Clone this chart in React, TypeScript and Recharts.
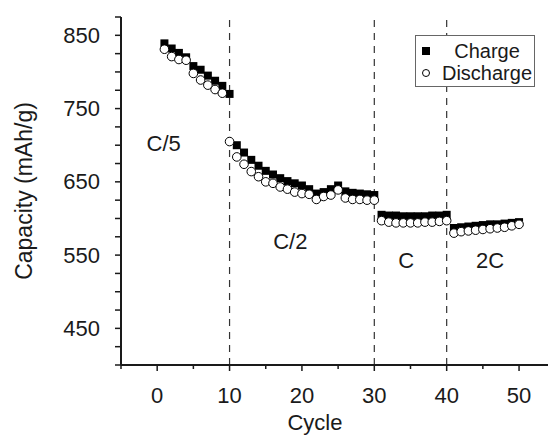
import {
  ScatterChart, Scatter, XAxis, YAxis, ReferenceLine, ReferenceDot, Legend,
} from 'recharts';

const cycles = [
  1, 2, 3, 4, 5, 6, 7, 8, 9, 10,
  11, 12, 13, 14, 15, 16, 17, 18, 19, 20, 21, 22, 23, 24, 25, 26, 27, 28, 29, 30,
  31, 32, 33, 34, 35, 36, 37, 38, 39, 40,
  41, 42, 43, 44, 45, 46, 47, 48, 49, 50,
];

const charge = [
  839, 832, 826, 820, 808, 803, 795, 788, 781, 770,
  700, 690, 680, 672, 665, 660, 655, 651, 648, 645, 640, 634, 636, 640, 645, 637, 635, 634, 633, 632,
  605, 604, 604, 603, 603, 603, 603, 604, 604, 605,
  587, 588, 589, 590, 591, 592, 592, 593, 594, 595,
];

const discharge = [
  831, 821, 817, 816, 798, 789, 782, 776, 771, 705,
  684, 674, 664, 657, 650, 648, 643, 640, 636, 634, 633, 626, 630, 632, 639, 628, 626, 626, 625, 625,
  597, 595, 594, 594, 594, 594, 595, 595, 596, 597,
  580, 582, 583, 584, 585, 586, 587, 588, 590, 592,
];

// cycle where the C-rate changes
const rateBreaks = [10, 30, 40];
const rateNames = ['C/5', 'C/2', 'C', '2C'];
// where each rate name sits, in data units [cycle, capacity]
const rateSpots = [[0.9, 703], [18.4, 569], [34.4, 543], [46, 542]];

const xTicks = [-5, 0, 5, 10, 15, 20, 25, 30, 35, 40, 45, 50];
const xLabels = [0, 10, 20, 30, 40, 50];
const yTicks = [400, 425, 450, 475, 500, 525, 550, 575, 600, 625, 650, 675, 700, 725, 750, 775, 800, 825, 850, 875];
const yLabels = [450, 550, 650, 750, 850];

const chargeData = cycles.map((c, i) => ({ cycle: c, cap: charge[i] }));
const dischargeData = cycles.map((c, i) => ({ cycle: c, cap: discharge[i] }));

const FONT = '"Liberation Sans", Arial, Helvetica, sans-serif';
const INK = '#1a1a1a';

function YTick({ x, y, payload }: any) {
  const major = yLabels.includes(payload.value);
  return (
    <g>
      <line x1={x} x2={x - 6} y1={y} y2={y} stroke={INK} strokeWidth={1.5} />
      {major && (
        <text x={x - 21} y={y} textAnchor="end" dominantBaseline="central"
          fontSize={22} fontFamily={FONT} fill={INK}>{payload.value}</text>
      )}
    </g>
  );
}

function XTick({ x, y, payload }: any) {
  const major = xLabels.includes(payload.value);
  return (
    <g>
      <line x1={x} x2={x} y1={y} y2={y + (major ? 6 : 4)} stroke={INK} strokeWidth={1.5} />
      {major && (
        <text x={x} y={y + 30} textAnchor="middle" dominantBaseline="central"
          fontSize={22} fontFamily={FONT} fill={INK}>{payload.value}</text>
      )}
    </g>
  );
}

const squareShape = (p: any) => (
  <rect x={p.cx - 4} y={p.cy - 4} width={8} height={8} fill="#000" />
);
const circleShape = (p: any) => (
  <circle cx={p.cx} cy={p.cy} r={4.3} fill="#fff" stroke="#000" strokeWidth={1} />
);

function LegendBox() {
  const row = { position: 'relative' as const, height: 22, lineHeight: '22px' };
  const txt = { position: 'absolute' as const, left: 18, right: -6, textAlign: 'center' as const };
  return (
    <div style={{
      width: 120, height: 52, boxSizing: 'border-box', border: '1px solid #666',
      background: '#fff', padding: '4px 0', fontFamily: FONT, fontSize: 20, color: INK,
    }}>
      <div style={row}>
        <span style={{ position: 'absolute', left: 6, top: 7, width: 8, height: 8, background: '#000' }} />
        <span style={txt}>Charge</span>
      </div>
      <div style={row}>
        <span style={{ position: 'absolute', left: 6, top: 7, width: 8, height: 8, borderRadius: '50%', border: '1px solid #000', boxSizing: 'border-box' }} />
        <span style={txt}>Discharge</span>
      </div>
    </div>
  );
}

export default function App() {
  return (
    <div style={{ position: 'absolute', left: 0, top: 0, width: 548, height: 437, background: '#fff', overflow: 'hidden' }}>
      <ScatterChart width={548} height={437} margin={{ top: 17, right: 0, left: 0, bottom: 0 }}>
        <XAxis
          type="number" dataKey="cycle" domain={[-5, 54]} ticks={xTicks} interval={0}
          allowDataOverflow height={72} tickSize={0} tickMargin={0} tickLine={false}
          tick={<XTick />} axisLine={{ stroke: INK, strokeWidth: 2 }}
          label={({ viewBox }: any) => (
            <text x={315} y={viewBox.y + 65} textAnchor="middle" fontSize={22}
              fontFamily={FONT} fill={INK}>Cycle</text>
          )}
        />
        <YAxis
          type="number" dataKey="cap" domain={[400, 875]} ticks={yTicks} interval={0}
          allowDataOverflow width={121} tickSize={0} tickMargin={0} tickLine={false}
          tick={<YTick />} axisLine={{ stroke: INK, strokeWidth: 2 }}
          label={({ viewBox }: any) => (
            <text x={24} y={viewBox.y + viewBox.height / 2} textAnchor="middle" dominantBaseline="central"
              transform={`rotate(-90 24 ${viewBox.y + viewBox.height / 2})`}
              fontSize={23} fontFamily={FONT} fill={INK}>Capacity (mAh/g)</text>
          )}
        />
        {rateBreaks.map(c => (
          <ReferenceLine key={c} x={c} stroke="#333" strokeWidth={1.2} strokeDasharray="7 6" />
        ))}
        {rateNames.map((n, i) => (
          <ReferenceDot key={n} x={rateSpots[i][0]} y={rateSpots[i][1]} r={0}
            shape={(p: any) => (
              <text x={p.cx} y={p.cy} textAnchor="middle" dominantBaseline="central"
                fontSize={22} fontFamily={FONT} fill={INK}>{n}</text>
            )}
          />
        ))}
        <Scatter name="Charge" data={chargeData} shape={squareShape} isAnimationActive={false} />
        <Scatter name="Discharge" data={dischargeData} shape={circleShape} isAnimationActive={false} />
        <Legend layout="vertical" align="center" verticalAlign="middle"
          wrapperStyle={{ left: 415, top: 35, width: 120 }} content={() => <LegendBox />} />
      </ScatterChart>
    </div>
  );
}
